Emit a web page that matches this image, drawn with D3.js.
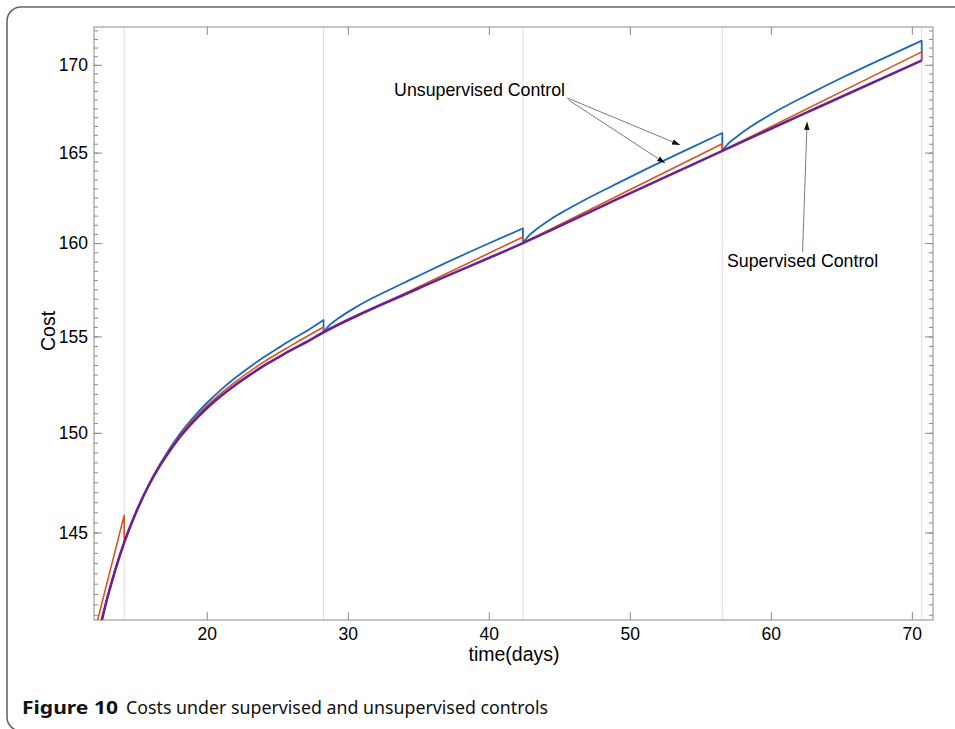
<!DOCTYPE html>
<html>
<head>
<meta charset="utf-8">
<script src="https://cdn.jsdelivr.net/npm/d3@7"></script>
<style>
  body { margin: 0; background: #fff; }
  svg { display: block; }
  .tick text { font-family: "Liberation Sans", Arial, sans-serif; font-size: 17.5px; fill: #000; }
  .tick line { stroke: #8a8a8a; }
</style>
</head>
<body>
<div id="chart"></div>
<script>
// values (time in days, cost)
var switchDays = [14.14, 28.28, 42.42, 56.56, 70.7];

var supervisedT    = [12.4, 13.0, 13.5, 14.14, 14.5, 15, 16, 17, 18, 19, 20, 21, 22, 23, 24, 25, 26, 27, 28.28, 35, 42.42, 49.5, 56.56, 63.6, 70.7];
var supervisedCost = [140.32, 141.95, 143.15, 144.5, 145.17, 146.03, 147.5, 148.69, 149.7, 150.53, 151.26, 151.89, 152.45, 152.96, 153.44, 153.87, 154.29, 154.68, 155.22, 157.55, 160.0, 162.55, 165.1, 167.65, 170.25];

var unsupAT    = [12.2, 14.14, 14.14, 15, 16, 18, 20, 22, 24, 26, 28.28, 28.28, 42.42, 42.42, 56.56, 56.56, 70.7, 70.7];
var unsupACost = [140.6, 145.85, 144.5, 146.05, 147.54, 149.78, 151.38, 152.61, 153.64, 154.53, 155.5, 155.22, 160.33, 160.0, 165.5, 165.1, 170.75, 170.25];

var unsupBT    = [12.4, 13.0, 13.5, 14.14, 14.5, 15, 16, 17, 18, 19, 20, 21, 22, 23, 24, 25, 26, 27, 28.28, 28.28,
                  28.70, 29.28, 30.28, 31.28, 32.52, 34.64, 36.76, 39.58, 42.42, 42.42,
                  42.84, 43.42, 44.42, 45.42, 46.66, 48.78, 50.90, 53.72, 56.56, 56.56,
                  56.98, 57.56, 58.56, 59.56, 60.80, 62.92, 65.04, 67.86, 70.7, 70.7];
var unsupBCost = [140.32, 141.95, 143.15, 144.5, 145.17, 146.03, 147.54, 148.79, 149.86, 150.75, 151.53, 152.21, 152.82, 153.37, 153.89, 154.36, 154.82, 155.25, 155.87, 155.22,
                  155.6, 155.93, 156.42, 156.85, 157.32, 158.09, 158.86, 159.84, 160.8, 160.0,
                  160.40, 160.78, 161.32, 161.78, 162.31, 163.15, 163.98, 165.04, 166.1, 165.1,
                  165.50, 165.88, 166.45, 166.95, 167.52, 168.40, 169.25, 170.33, 171.4, 170.25];

var xTicks = [20, 30, 40, 50, 60, 70];
var yTicks = [145, 150, 155, 160, 165, 170];
var yMinor = d3.range(141, 172.01, 0.5);

var width = 955, height = 729;
var x = d3.scaleLinear().domain([12, 71.5]).range([94, 933]);
var y = d3.scaleLog().domain([140.75, 172.2]).range([620, 27]);

var svg = d3.select("#chart").append("svg")
    .attr("width", width).attr("height", height);

// figure border
svg.append("rect")
    .attr("x", 7).attr("y", 7).attr("width", 1000).attr("height", 724)
    .attr("rx", 14).attr("ry", 14)
    .attr("fill", "none").attr("stroke", "#666").attr("stroke-width", 1.6);

svg.append("clipPath").attr("id", "plot")
  .append("rect").attr("x", 94).attr("y", 27).attr("width", 839).attr("height", 593);

// switch day guide lines
svg.append("g").selectAll("line")
  .data(switchDays).enter().append("line")
    .attr("x1", function(d) { return x(d); }).attr("x2", function(d) { return x(d); })
    .attr("y1", 27).attr("y2", 620)
    .attr("stroke", "#e6d9df").attr("stroke-width", 1);

// axes
function drawAxis(axis, tx, ty, labels) {
  var g = svg.append("g").attr("transform", "translate(" + tx + "," + ty + ")").call(axis);
  g.select(".domain").remove();
  if (!labels) g.selectAll("text").remove();
  return g;
}
drawAxis(d3.axisBottom(x).tickValues(xTicks).tickSize(-8).tickPadding(8), 0, 620, true);
drawAxis(d3.axisTop(x).tickValues(xTicks).tickSize(-8), 0, 27, false);
drawAxis(d3.axisLeft(y).tickValues(yTicks).tickSize(-8).tickPadding(6).tickFormat(d3.format("d")), 94, 0, true);
drawAxis(d3.axisLeft(y).tickValues(yMinor).tickSize(-4), 94, 0, false);
drawAxis(d3.axisRight(y).tickValues(yTicks).tickSize(-8), 933, 0, false);
drawAxis(d3.axisRight(y).tickValues(yMinor).tickSize(-4), 933, 0, false);

svg.append("rect")
    .attr("x", 94).attr("y", 27).attr("width", 839).attr("height", 593)
    .attr("fill", "none").attr("stroke", "#8a8a8a").attr("stroke-width", 1);

// series: smooth pieces between the switch days, joined by the vertical drops
var curve = d3.line()
    .x(function(d) { return x(d[0]); })
    .y(function(d) { return y(d[1]); })
    .curve(d3.curveMonotoneX);

function piecewise(t, c) {
  var pts = d3.zip(t, c), segs = [[pts[0]]];
  for (var i = 1; i < pts.length; i++) {
    if (pts[i][0] <= pts[i - 1][0]) segs.push([]);
    segs[segs.length - 1].push(pts[i]);
  }
  return segs.map(function(s, i) {
    var d = s.length > 1 ? curve(s) : "M" + x(s[0][0]) + "," + y(s[0][1]);
    return i === 0 ? d : "L" + d.slice(1);
  }).join("");
}

var series = [
  { t: unsupBT, c: unsupBCost, color: "#1f66b8", w: 1.8 },
  { t: unsupAT, c: unsupACost, color: "#d9531e", w: 1.6 },
  { t: supervisedT, c: supervisedCost, color: "#6a2192", w: 2.6 }
];
var lines = svg.append("g").attr("clip-path", "url(#plot)");
series.forEach(function(s) {
  lines.append("path")
    .attr("d", piecewise(s.t, s.c))
    .attr("fill", "none")
    .attr("stroke", s.color)
    .attr("stroke-width", s.w)
    .attr("stroke-linejoin", "round");
});

// annotations
var defs = svg.append("defs");
defs.append("marker").attr("id", "head")
    .attr("viewBox", "0 0 10 10").attr("refX", 10).attr("refY", 5)
    .attr("markerWidth", 8).attr("markerHeight", 8)
    .attr("markerUnits", "userSpaceOnUse").attr("orient", "auto")
  .append("path").attr("d", "M0,1.5L10,5L0,8.5z").attr("fill", "#111");

var notes = [
  { text: "Unsupervised Control", tx: 33.28, ty: 168.22 },
  { text: "Supervised Control", tx: 56.89, ty: 158.72 }
];
var arrows = [
  [45.55, 168.1, 53.56, 165.43],
  [45.65, 167.98, 52.5, 164.41],
  [62.25, 159.51, 62.57, 166.73]
];
svg.append("g").selectAll("line")
  .data(arrows).enter().append("line")
    .attr("x1", function(d) { return x(d[0]); }).attr("y1", function(d) { return y(d[1]); })
    .attr("x2", function(d) { return x(d[2]); }).attr("y2", function(d) { return y(d[3]); })
    .attr("stroke", "#7a7a7a").attr("stroke-width", 1)
    .attr("marker-end", "url(#head)");
svg.append("g").selectAll("text")
  .data(notes).enter().append("text")
    .attr("x", function(d) { return x(d.tx); }).attr("y", function(d) { return y(d.ty); })
    .attr("font-family", "Liberation Sans, Arial, sans-serif").attr("font-size", 17.8)
    .text(function(d) { return d.text; });

// axis titles
svg.append("text")
    .attr("x", 514).attr("y", 661).attr("text-anchor", "middle")
    .attr("font-family", "Liberation Sans, Arial, sans-serif").attr("font-size", 19.5)
    .text("time(days)");
svg.append("text")
    .attr("transform", "translate(55,331) rotate(-90)").attr("text-anchor", "middle")
    .attr("font-family", "Liberation Sans, Arial, sans-serif").attr("font-size", 19.5)
    .text("Cost");

// caption
svg.append("text").attr("x", 22).attr("y", 714)
    .attr("font-family", "Noto Sans, Open Sans, sans-serif").attr("font-size", 17.5)
    .attr("font-weight", "bold").attr("fill", "#111")
    .attr("textLength", 96).attr("lengthAdjust", "spacingAndGlyphs")
    .text("Figure 10");
svg.append("text").attr("x", 126).attr("y", 714)
    .attr("font-family", "Noto Sans, Open Sans, sans-serif").attr("font-size", 17.5)
    .attr("fill", "#111")
    .attr("textLength", 422).attr("lengthAdjust", "spacingAndGlyphs")
    .text("Costs under supervised and unsupervised controls");
</script>
</body>
</html>
